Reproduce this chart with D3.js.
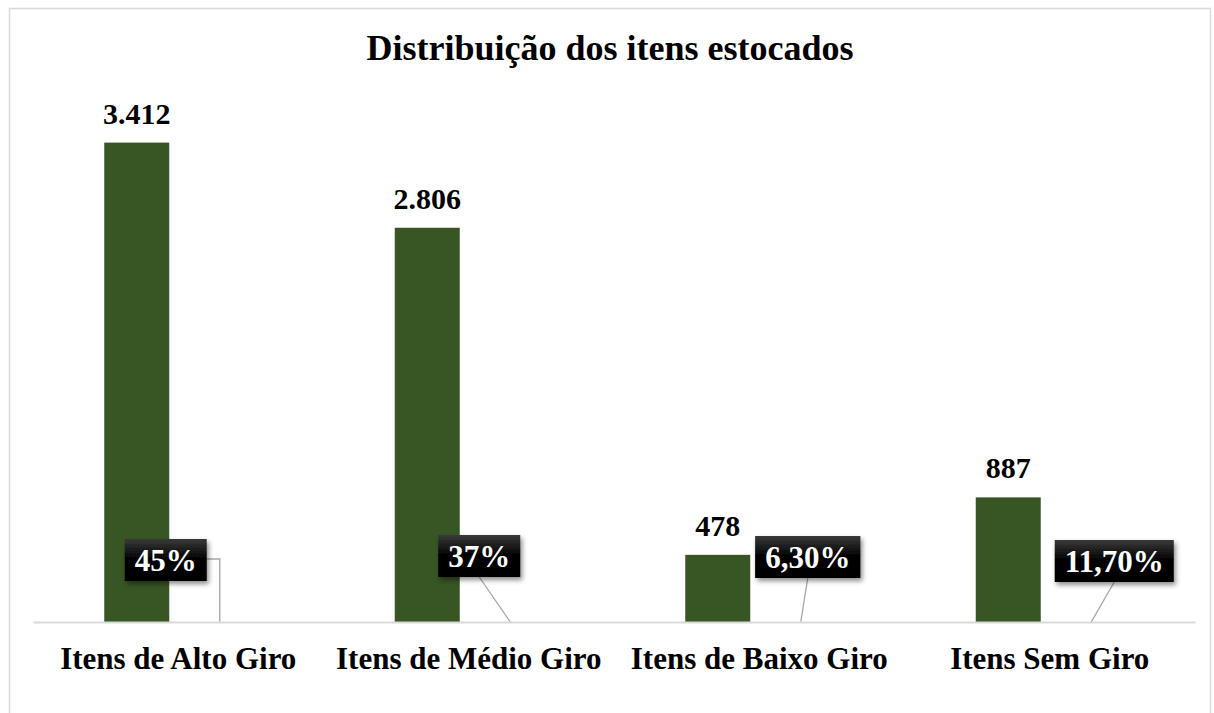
<html>
<head>
    <title>Distribuição dos itens estocados</title>
    <script src="https://cdnjs.cloudflare.com/ajax/libs/d3/7.8.5/d3.min.js"></script>
    <style>
        body { margin: 0; background: white; }
        svg text { font-family: "Liberation Serif", "Times New Roman", serif; font-weight: bold; }
    </style>
</head>
<body>
    <div id="chart"></div>
    <script>
        // data
        var categories = ["Itens de Alto Giro", "Itens de Médio Giro", "Itens de Baixo Giro", "Itens Sem Giro"];
        var quantities = [3412, 2806, 478, 887];
        var pct_labels = ["45%", "37%", "6,30%", "11,70%"];
        var series = ["qtd", "pct"];

        // manual placement of the percentage boxes (like dragged labels in the sheet)
        var pct_offsets = [[-54, -62], [-31, -66], [7, -65], [23, -61]];

        var width = 1214, height = 713;
        var svg = d3.select("#chart").append("svg")
                    .attr("width", width)
                    .attr("height", height);

        var defs = svg.append("defs");
        var grad = defs.append("linearGradient").attr("id", "box-grad")
                       .attr("x1", 0).attr("y1", 0).attr("x2", 0).attr("y2", 1);
        grad.append("stop").attr("offset", "0%").attr("stop-color", "#3a3a3a");
        grad.append("stop").attr("offset", "45%").attr("stop-color", "#050505");
        grad.append("stop").attr("offset", "100%").attr("stop-color", "#000");
        var shadow = defs.append("filter").attr("id", "shadow")
                         .attr("x", "-20%").attr("y", "-20%").attr("width", "150%").attr("height", "160%");
        shadow.append("feDropShadow").attr("dx", 2).attr("dy", 3).attr("stdDeviation", 2.5)
              .attr("flood-color", "#000").attr("flood-opacity", 0.45);

        // outer frame
        svg.append("rect")
           .attr("x", 9.5).attr("y", 8.5)
           .attr("width", 1201).attr("height", 720)
           .attr("fill", "none").attr("stroke", "#d9d9d9").attr("stroke-width", 1.5);

        var margin = {left: 33, right: 19, top: 60, bottom: 91};
        var baseline = height - margin.bottom;

        var x = d3.scaleBand().domain(categories)
                  .range([margin.left, width - margin.right]);
        var x1 = d3.scaleBand().domain(series)
                   .range([-74, 74]).paddingInner(18 / 83);
        var y = d3.scaleLinear().domain([0, 4000])
                  .range([baseline, margin.top]);

        var fmt = d3.formatLocale({decimal: ",", thousands: ".", grouping: [3], currency: ["R$", ""]}).format(",d");

        // title
        svg.append("text")
           .attr("x", 610).attr("y", 60)
           .attr("text-anchor", "middle")
           .attr("font-size", 36)
           .attr("fill", "#000")
           .text("Distribuição dos itens estocados");

        // bars
        svg.selectAll("rect.bar")
           .data(quantities)
           .enter().append("rect")
           .attr("class", "bar")
           .attr("x", function(d, i){ return x(categories[i]) + x.bandwidth() / 2 + x1("qtd"); })
           .attr("y", function(d){ return y(d); })
           .attr("width", x1.bandwidth())
           .attr("height", function(d){ return baseline - y(d); })
           .attr("fill", "#375623");

        // value labels
        svg.selectAll("text.value")
           .data(quantities)
           .enter().append("text")
           .attr("class", "value")
           .attr("x", function(d, i){ return x(categories[i]) + x.bandwidth() / 2 + x1("qtd") + x1.bandwidth() / 2; })
           .attr("y", function(d){ return y(d) - 19; })
           .attr("text-anchor", "middle")
           .attr("font-size", 30)
           .attr("fill", "#000")
           .text(function(d){ return fmt(d); });

        // category axis
        var axis = svg.append("g")
                      .attr("transform", "translate(0," + baseline + ")")
                      .call(d3.axisBottom(x).tickSize(0).tickPadding(47));
        axis.select(".domain").attr("stroke", "#d9d9d9").attr("stroke-width", 2);
        axis.selectAll(".tick text")
            .attr("font-size", 31)
            .attr("fill", "#000")
            .style("font-family", "'Liberation Serif', 'Times New Roman', serif")
            .style("font-weight", "bold")
            .attr("dy", 0);

        // percentage labels with leader lines
        var box_h = 42, pad = 10;
        pct_labels.forEach(function(lbl, i){
            var ax = x(categories[i]) + x.bandwidth() / 2 + x1("pct") + x1.bandwidth() / 2;
            var cx = ax + pct_offsets[i][0];
            var cy = baseline + pct_offsets[i][1];

            var g = svg.append("g");
            var t = g.append("text")
                     .attr("x", cx).attr("y", cy + 11)
                     .attr("text-anchor", "middle")
                     .attr("font-size", 31)
                     .attr("fill", "#fff")
                     .text(lbl);
            var tw = t.node().getComputedTextLength();
            var bw = tw + 2 * pad;
            var left = cx - bw / 2, right = cx + bw / 2;

            var pts;
            if(ax > right)
                pts = [[right, cy - 1], [ax, cy - 1], [ax, baseline]];
            else if(ax < left)
                pts = [[left, cy - 1], [ax, cy - 1], [ax, baseline]];
            else
                pts = [[cx, cy + box_h / 2], [ax, baseline]];
            svg.insert("path", "g")
               .attr("d", d3.line()(pts))
               .attr("fill", "none")
               .attr("stroke", "#a6a6a6")
               .attr("stroke-width", 1.3);

            g.insert("rect", "text")
             .attr("x", left).attr("y", cy - box_h / 2)
             .attr("width", bw).attr("height", box_h)
             .attr("fill", "url(#box-grad)")
             .attr("filter", "url(#shadow)");
        });
    </script>
</body>
</html>
